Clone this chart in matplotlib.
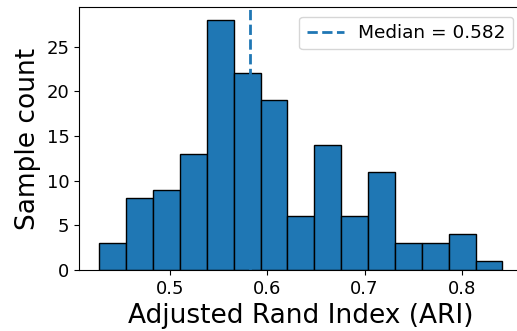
import numpy as np
import matplotlib
matplotlib.use("Agg")
import matplotlib.pyplot as plt

# histogram of ARI values
ari_min = 0.4273
ari_max = 0.8418
counts = [3, 8, 9, 13, 28, 22, 19, 6, 14, 6, 11, 3, 3, 4, 1]
median_ari = 0.582

edges = np.linspace(ari_min, ari_max, len(counts) + 1)
centers = (edges[:-1] + edges[1:]) / 2

fig = plt.figure(figsize=(5.17, 3.31), dpi=100)
ax = fig.add_axes([0.1532, 0.1846, 0.8575, 0.793])

ax.hist(centers, bins=edges, weights=counts, color='#1f77b4', edgecolor='black', linewidth=1)
ax.axvline(median_ari, color='#1f77b4', linestyle='--', linewidth=2,
           label=f"Median = {median_ari:.3f}")

ax.set_xlabel('Adjusted Rand Index (ARI)', fontsize=19)
ax.set_ylabel('Sample count', fontsize=19)
ax.tick_params(labelsize=13)
ax.legend(fontsize=13.3, loc='upper right')

fig.savefig('out.png', dpi=100)
